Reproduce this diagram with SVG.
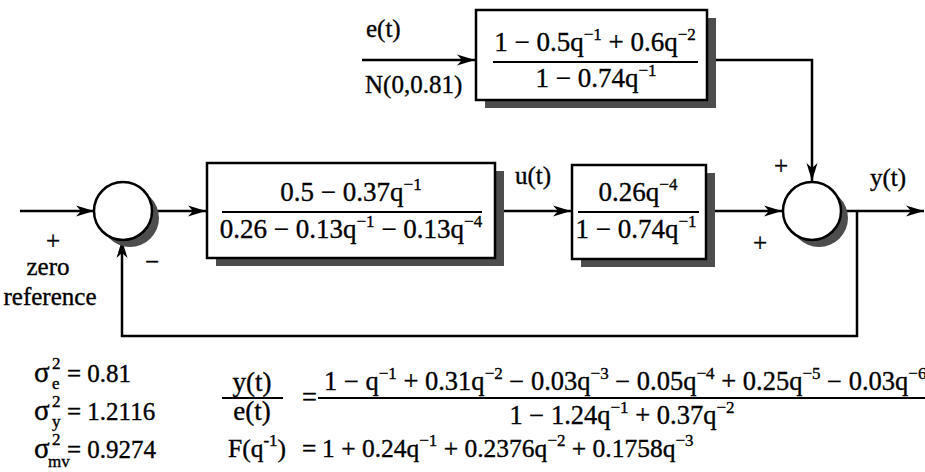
<svg xmlns="http://www.w3.org/2000/svg" width="925" height="472" viewBox="0 0 925 472">
<defs>
<marker id="ah" markerUnits="userSpaceOnUse" markerWidth="18" markerHeight="12" refX="18" refY="6" orient="auto">
<path d="M0,0.5 L18,6 L0,11.5 L5,6 z" fill="#000"/>
</marker>
<style>
.t,.f,.g,.h{font-family:"Liberation Serif","Times New Roman",serif;fill:#000;stroke:#000;stroke-width:0.35}
.t{font-size:25px}
.f{font-size:27px}
.g{font-size:26.5px}
.h{font-size:25.5px}
.s{font-size:17px}
.sg{font-size:29px}
.box{fill:#fff;stroke:#000;stroke-width:2.5}
.sh{fill:#4d4d4d}
.ln{fill:none;stroke:#000;stroke-width:2.5}
.fl{stroke:#000;stroke-width:2}
</style>
</defs>

<g id="connectors">
<path class="ln" d="M20 211 H94" marker-end="url(#ah)"/>
<path class="ln" d="M153 211 H206" marker-end="url(#ah)"/>
<path class="ln" d="M504 211 H571" marker-end="url(#ah)"/>
<path class="ln" d="M715 211 H782" marker-end="url(#ah)"/>
<path class="ln" d="M362 60 H475" marker-end="url(#ah)"/>
<path class="ln" d="M716 60 H812 V181" marker-end="url(#ah)"/>
<path class="ln" d="M841 211 H924" marker-end="url(#ah)"/>
<path class="ln" d="M857 211 V336 H122 V240" marker-end="url(#ah)"/>
</g>

<g id="noise-filter">
<rect class="sh" x="485" y="18" width="231" height="90"/>
<rect class="box" x="476" y="10" width="231" height="90"/>
<text class="f" x="595" y="51" text-anchor="middle">1 − 0.5q<tspan class="s" dy="-11">−1</tspan><tspan dy="11"> + 0.6q</tspan><tspan class="s" dy="-11">−2</tspan></text>
<line class="fl" x1="493" y1="62" x2="698" y2="62"/>
<text class="f" x="596" y="87" text-anchor="middle">1 − 0.74q<tspan class="s" dy="-11">−1</tspan></text>
</g>

<g id="noise-labels">
<text class="t" x="366" y="37">e(t)</text>
<text class="t" x="365" y="93">N(0,0.81)</text>
</g>

<g id="sum1">
<circle cx="130" cy="218" r="29" class="sh"/>
<circle cx="123" cy="211" r="29" class="box"/>
<text class="t" x="53" y="249" text-anchor="middle">+</text>
<text class="t" x="152" y="270" text-anchor="middle">−</text>
<text class="t" x="48" y="275" text-anchor="middle">zero</text>
<text class="t" x="50" y="305" text-anchor="middle">reference</text>
</g>

<g id="controller">
<rect class="sh" x="216" y="171" width="288" height="95"/>
<rect class="box" x="207" y="163" width="288" height="95"/>
<text class="f" x="351" y="201" text-anchor="middle">0.5 − 0.37q<tspan class="s" dy="-11">−1</tspan></text>
<line class="fl" x1="222" y1="212" x2="482" y2="212"/>
<text class="f" x="351" y="238" text-anchor="middle">0.26 − 0.13q<tspan class="s" dy="-11">−1</tspan><tspan dy="11"> − 0.13q</tspan><tspan class="s" dy="-11">−4</tspan></text>
</g>

<g id="u-label">
<text class="t" x="515" y="184">u(t)</text>
</g>

<g id="process">
<rect class="sh" x="581" y="173" width="134" height="94"/>
<rect class="box" x="572" y="165" width="134" height="94"/>
<text class="f" x="638" y="201" text-anchor="middle">0.26q<tspan class="s" dy="-11">−4</tspan></text>
<line class="fl" x1="578" y1="212" x2="699" y2="212"/>
<text class="f" x="636" y="238" text-anchor="middle">1 − 0.74q<tspan class="s" dy="-11">−1</tspan></text>
</g>

<g id="sum2">
<circle cx="819" cy="218" r="29" class="sh"/>
<circle cx="812" cy="211" r="29" class="box"/>
<text class="t" x="781" y="174" text-anchor="middle">+</text>
<text class="t" x="760" y="251" text-anchor="middle">+</text>
</g>

<g id="y-label">
<text class="t" x="870" y="186">y(t)</text>
</g>

<g id="variances">
<text class="t sg" x="34" y="382">σ</text>
<text class="t s" x="52" y="369">2</text>
<text class="t s" x="52" y="389">e</text>
<text class="t" x="67" y="382">= 0.81</text>
<text class="t sg" x="34" y="420">σ</text>
<text class="t s" x="52" y="407">2</text>
<text class="t s" x="52" y="427">y</text>
<text class="t" x="67" y="420">= 1.2116</text>
<text class="t sg" x="34" y="458">σ</text>
<text class="t s" x="52" y="445">2</text>
<text class="t s" x="48" y="467">mv</text>
<text class="t" x="67" y="458">= 0.9274</text>
</g>

<g id="closed-loop">
<text class="f" x="252" y="391" text-anchor="middle">y(t)</text>
<line class="fl" x1="222" y1="398" x2="283" y2="398"/>
<text class="f" x="252" y="420" text-anchor="middle">e(t)</text>
<text class="g" x="302" y="406">=</text>
<text class="g" x="324" y="390">1 − q<tspan class="s" dy="-11">−1</tspan><tspan dy="11"> + 0.31q</tspan><tspan class="s" dy="-11">−2</tspan><tspan dy="11"> − 0.03q</tspan><tspan class="s" dy="-11">−3</tspan><tspan dy="11"> − 0.05q</tspan><tspan class="s" dy="-11">−4</tspan><tspan dy="11"> + 0.25q</tspan><tspan class="s" dy="-11">−5</tspan><tspan dy="11"> − 0.03q</tspan><tspan class="s" dy="-11">−6</tspan></text>
<line class="fl" x1="318" y1="398" x2="925" y2="398"/>
<text class="g" x="622" y="424" text-anchor="middle">1 − 1.24q<tspan class="s" dy="-11">−1</tspan><tspan dy="11"> + 0.37q</tspan><tspan class="s" dy="-11">−2</tspan></text>
<text class="h" x="228" y="457">F(q<tspan class="s" dy="-11">-1</tspan><tspan dy="11">)</tspan></text>
<text class="h" x="302" y="457">=</text>
<text class="h" x="322" y="457">1 + 0.24q<tspan class="s" dy="-11">−1</tspan><tspan dy="11"> + 0.2376q</tspan><tspan class="s" dy="-11">−2</tspan><tspan dy="11"> + 0.1758q</tspan><tspan class="s" dy="-11">−3</tspan></text>
</g>
</svg>
